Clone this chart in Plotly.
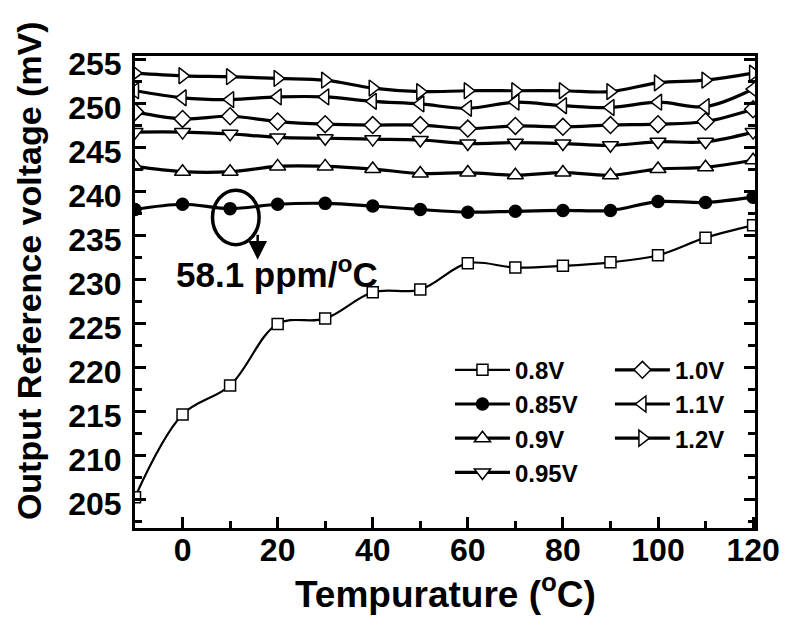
import plotly.graph_objects as go

# Temperature sweep (°C)
temps = [-10, 0, 10, 20, 30, 40, 50, 60, 70, 80, 90, 100, 110, 120]

# Output reference voltage (mV) for each supply voltage
v_080 = [205.3, 214.7, 218.0, 225.0, 225.6, 228.6, 228.9, 231.9, 231.4, 231.6, 232.0, 232.8, 234.8, 236.2]
v_085 = [238.0, 238.6, 238.1, 238.6, 238.7, 238.4, 238.0, 237.7, 237.8, 237.9, 237.9, 238.9, 238.8, 239.4]
v_090 = [242.9, 242.3, 242.3, 242.9, 242.9, 242.6, 242.1, 242.2, 241.9, 242.2, 241.9, 242.6, 242.8, 243.6]
v_095 = [246.8, 246.8, 246.6, 246.2, 246.1, 246.0, 245.9, 245.5, 245.6, 245.5, 245.3, 245.7, 245.7, 246.8]
v_100 = [249.1, 248.3, 248.6, 248.0, 247.7, 247.6, 247.6, 247.2, 247.5, 247.4, 247.6, 247.7, 248.0, 249.4]
v_110 = [251.5, 250.7, 250.5, 250.8, 250.8, 250.3, 250.0, 249.5, 250.2, 249.8, 249.6, 250.2, 249.7, 251.7]
v_120 = [253.5, 253.2, 253.1, 252.9, 252.7, 251.8, 251.4, 251.5, 251.5, 251.5, 251.4, 252.4, 252.7, 253.5]

labels = ["0.8V", "0.85V", "0.9V", "0.95V", "1.0V", "1.1V", "1.2V"]
series = [v_080, v_085, v_090, v_095, v_100, v_110, v_120]
symbols = ["square", "circle", "triangle-up", "triangle-down", "diamond", "triangle-left", "triangle-right"]
fills = ["white", "black", "white", "white", "white", "white", "white"]
sizes = [11, 12, 14, 14, 13, 14, 14]
widths = [2.2, 3.2, 3.2, 3.2, 3.2, 3.2, 3.2]
legend_ids = ["legend", "legend", "legend", "legend", "legend2", "legend2", "legend2"]

x_ticks = [0, 20, 40, 60, 80, 100, 120]
x_minor = [10, 30, 50, 70, 90, 110]
y_ticks = [205, 210, 215, 220, 225, 230, 235, 240, 245, 250, 255]
y_minor = [202.5, 207.5, 212.5, 217.5, 222.5, 227.5, 232.5, 237.5, 242.5, 247.5, 252.5]

FONT = "Liberation Sans, Arial, sans-serif"

fig = go.Figure()
for name, ys, sym, fc, sz, lw, lg in zip(labels, series, symbols, fills, sizes, widths, legend_ids):
    fig.add_trace(go.Scatter(
        x=temps, y=ys, name="<b>%s</b>" % name, mode="lines+markers",
        line=dict(color="black", width=lw, shape="spline", smoothing=1.0),
        marker=dict(symbol=sym, size=sz, color=fc, line=dict(color="black", width=1.5)),
        legend=lg,
    ))

axis_common = dict(
    showline=True, linecolor="black", linewidth=3,
    ticks="inside", tickcolor="black", tickwidth=2.5, ticklen=11,
    showgrid=False, zeroline=False,
    tickfont=dict(family=FONT, size=32, color="black"),
)

fig.update_xaxes(
    **axis_common,
    range=[-10, 120.4], tickmode="array", tickvals=x_ticks,
    ticktext=["<b>%d</b>" % v for v in x_ticks],
    minor=dict(ticks="inside", tickvals=x_minor, ticklen=7, tickwidth=2.5, tickcolor="black"),
    mirror=True,
    ticklabelstandoff=-8,
)
fig.update_yaxes(
    **axis_common,
    range=[201.8, 255.45], tickmode="array", tickvals=y_ticks,
    ticktext=["<b>%d</b>" % v for v in y_ticks],
    minor=dict(ticks="inside", tickvals=y_minor, ticklen=7, tickwidth=2.5, tickcolor="black"),
    mirror="ticks",
    ticklabelstandoff=4,
    ticklabelshift=4,
)

legend_font = dict(family=FONT, size=24, color="black")
fig.update_layout(
    width=794, height=619,
    margin=dict(l=135, r=39, t=56, b=91),
    paper_bgcolor="white", plot_bgcolor="white",
    legend=dict(x=0.508, y=0.382, xanchor="left", yanchor="top", font=legend_font,
                bgcolor="rgba(0,0,0,0)", tracegroupgap=0, itemwidth=55),
    legend2=dict(x=0.766, y=0.382, xanchor="left", yanchor="top", font=legend_font,
                 bgcolor="rgba(0,0,0,0)", tracegroupgap=0, itemwidth=55),
)

# Axis titles
fig.add_annotation(x=0.5, y=-0.134, xref="paper", yref="paper", yanchor="middle",
                   text="<b>Tempurature (<sup>o</sup>C)</b>", showarrow=False,
                   font=dict(family=FONT, size=37, color="black"))
fig.add_annotation(x=-0.172, y=0.545, xref="paper", yref="paper", xanchor="center", yanchor="middle",
                   textangle=-90, text="<b>Output Reference voltage (mV)</b>", showarrow=False,
                   font=dict(family=FONT, size=34, color="black"))

# Ellipse marking the 0.85V curve and its temperature coefficient
fig.add_shape(type="circle", xref="x", yref="y",
              x0=6.3, x1=16.1, y0=234.0, y1=240.2,
              line=dict(color="black", width=3.5))
fig.add_annotation(x=15.8, y=232.3, ax=15.8, ay=235.3, xref="x", yref="y", axref="x", ayref="y",
                   text="", showarrow=True, arrowhead=2, arrowsize=1.5, arrowwidth=2.5, arrowcolor="black")
fig.add_annotation(x=19.8, y=230.9, xref="x", yref="y", text="<b>58.1 ppm/<sup>o</sup>C</b>", showarrow=False,
                   font=dict(family=FONT, size=35, color="black"))

fig.write_html("out.html")
